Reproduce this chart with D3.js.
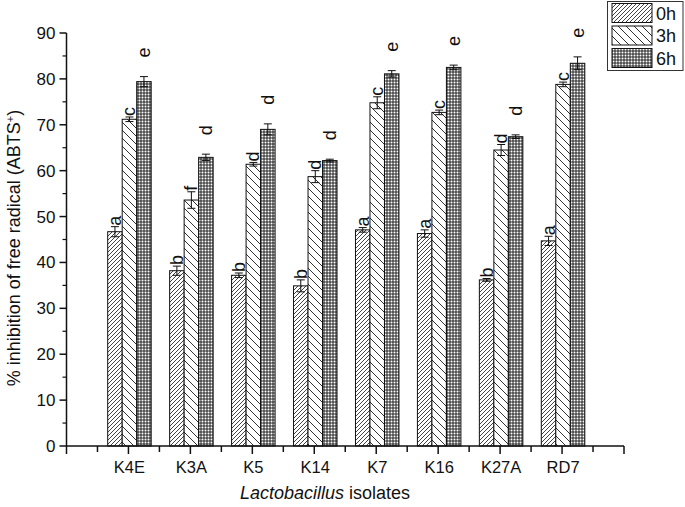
<!DOCTYPE html>
<html><head><meta charset="utf-8">
<script src="https://cdnjs.cloudflare.com/ajax/libs/d3/7.8.5/d3.min.js"></script>
<style>body{margin:0;background:#fff}svg{display:block;font-family:"Liberation Sans",Arial,sans-serif}</style>
</head><body><div id="chart"></div>
<script>
const categories = ["K4E","K3A","K5","K14","K7","K16","K27A","RD7"];
const seriesNames = ["0h","3h","6h"];
const values0h = [46.7, 38.2, 37.2, 34.9, 47.1, 46.3, 36.2, 44.7];
const values3h = [71.2, 53.6, 61.4, 58.7, 74.8, 72.7, 64.5, 78.8];
const values6h = [79.4, 62.9, 69.0, 62.2, 81.1, 82.5, 67.4, 83.4];
const errors0h = [1.1, 1.0, 0.5, 1.3, 0.5, 0.8, 0.3, 1.0];
const errors3h = [0.5, 1.8, 0.4, 1.3, 1.3, 0.5, 1.2, 0.5];
const errors6h = [1.1, 0.7, 1.2, 0.3, 0.7, 0.5, 0.4, 1.4];
const letters0h = ["a","b","b","b","a","a","b","a"];
const letters3h = ["c","f","d","d","c","c","d","c"];
const letters6h = ["e","d","d","d","e","e","d","e"];
const yTicks = [0,10,20,30,40,50,60,70,80,90];

const W = 685, H = 507;
const svg = d3.select("#chart").append("svg").attr("width", W).attr("height", H);
const defs = svg.append("defs");

// patterns
const p0 = defs.append("pattern").attr("id","p0").attr("patternUnits","userSpaceOnUse").attr("width",4).attr("height",4);
p0.append("rect").attr("width",4).attr("height",4).attr("fill","#fff");
p0.append("path").attr("d","M-1,1 L1,-1 M0,4 L4,0 M3,5 L5,3").attr("stroke","#444").attr("stroke-width",1);
const p1 = defs.append("pattern").attr("id","p1").attr("patternUnits","userSpaceOnUse").attr("width",8).attr("height",8);
p1.append("rect").attr("width",8).attr("height",8).attr("fill","#fff");
p1.append("path").attr("d","M-1,-1 L9,9 M-1,7 L1,9 M7,-1 L9,1").attr("stroke","#333").attr("stroke-width",1);
const p2 = defs.append("pattern").attr("id","p2").attr("patternUnits","userSpaceOnUse").attr("width",3).attr("height",3);
p2.append("rect").attr("width",3).attr("height",3).attr("fill","#4a4a4a");
p2.append("circle").attr("cx",1.5).attr("cy",1.5).attr("r",1.0).attr("fill","#fff");
const patterns = ["url(#p0)","url(#p1)","url(#p2)"];

const x0 = 66.5, x1 = 624, yTop = 33, yBot = 446;
const xLin = d3.scaleLinear().domain([0, categories.length + 1]).range([x0, x1]);
const y = d3.scaleLinear().domain([0, 90]).range([yBot, yTop]);
const bw = 14.5;

const series = [values0h, values3h, values6h];
const errs = [errors0h, errors3h, errors6h];
const letters = [letters0h, letters3h, letters6h];

categories.forEach((c, i) => {
  const cx = xLin(i + 1) + 1;
  series.forEach((vals, s) => {
    const bx = cx - 1.5*bw + s*bw;
    const v = vals[i], e = errs[s][i];
    svg.append("rect").attr("x", bx).attr("y", y(v)).attr("width", bw).attr("height", y(0) - y(v))
      .attr("fill", patterns[s]).attr("stroke", "#111").attr("stroke-width", 1);
    const mx = bx + bw/2;
    const g = svg.append("g").attr("stroke","#111").attr("stroke-width",1);
    g.append("line").attr("x1",mx).attr("x2",mx).attr("y1",y(v+e)).attr("y2",y(v-e));
    g.append("line").attr("x1",mx-4).attr("x2",mx+4).attr("y1",y(v+e)).attr("y2",y(v+e));
    g.append("line").attr("x1",mx-4).attr("x2",mx+4).attr("y1",y(v-e)).attr("y2",y(v-e));
    const ly = s === 2 ? y(v+e) - 19 : y(v+e) - 1;
    svg.append("text").attr("transform", `translate(${mx + 6},${ly}) rotate(-90)`)
      .attr("font-size", 18).attr("fill","#111").text(letters[s][i]);
  });
});

// y axis
const yAxis = svg.append("g").attr("stroke","#111");
yAxis.append("line").attr("x1",x0).attr("x2",x0).attr("y1",yTop).attr("y2",yBot).attr("stroke-width",1.5);
yTicks.forEach(t => {
  yAxis.append("line").attr("x1",x0-7).attr("x2",x0).attr("y1",y(t)).attr("y2",y(t)).attr("stroke-width",1.5);
  if (t < 90) yAxis.append("line").attr("x1",x0-4).attr("x2",x0).attr("y1",y(t+5)).attr("y2",y(t+5)).attr("stroke-width",1.2);
  svg.append("text").attr("x",x0-11).attr("y",y(t)+6).attr("text-anchor","end").attr("font-size",17).attr("fill","#111").text(t);
});
// x axis
const xAxis = svg.append("g").attr("stroke","#111");
xAxis.append("line").attr("x1",x0).attr("x2",x1).attr("y1",yBot).attr("y2",yBot).attr("stroke-width",1.5);
d3.range(0, categories.length + 1.5, 0.5).forEach(k => {
  const major = Number.isInteger(k);
  xAxis.append("line").attr("x1",xLin(k)).attr("x2",xLin(k)).attr("y1",yBot).attr("y2",yBot + (major ? 8 : 6)).attr("stroke-width",1.5);
});
categories.forEach((c, i) => {
  svg.append("text").attr("x", xLin(i+1)+1).attr("y", 473).attr("text-anchor","middle").attr("font-size",16.5).attr("fill","#111").text(c);
});

// axis titles
const xt = svg.append("text").attr("x", 325).attr("y", 499).attr("text-anchor","middle").attr("font-size",18).attr("fill","#111");
xt.append("tspan").attr("font-style","italic").text("Lactobacillus");
xt.append("tspan").text(" isolates");
const yt = svg.append("text").attr("transform","translate(20,248) rotate(-90)").attr("text-anchor","middle").attr("font-size",18).attr("fill","#111");
yt.append("tspan").text("% inhibition of free radical (ABTS");
yt.append("tspan").attr("baseline-shift","super").attr("font-size",11).text("+");
yt.append("tspan").text(")");

// legend
const lg = svg.append("g");
lg.append("rect").attr("x",607.5).attr("y",1.5).attr("width",75.5).attr("height",69).attr("fill","#fff").attr("stroke","#333").attr("stroke-width",1);
seriesNames.forEach((n, s) => {
  const ly = 3.5 + s*22.5;
  lg.append("rect").attr("x",612).attr("y",ly).attr("width",40).attr("height",19).attr("fill",patterns[s]).attr("stroke","#111");
  lg.append("text").attr("x",656).attr("y",ly+16).attr("font-size",18).attr("fill","#111").text(n);
});
</script></body></html>
